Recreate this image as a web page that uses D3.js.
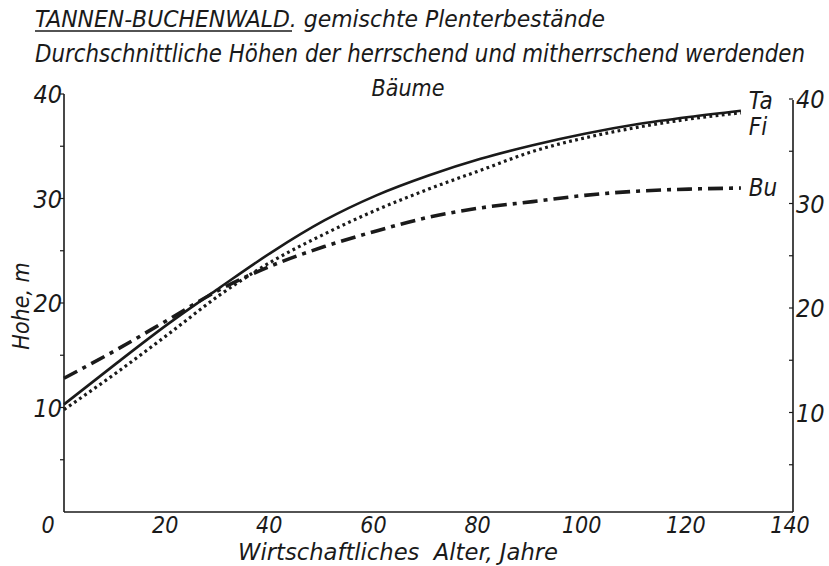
<!DOCTYPE html>
<html>
<head>
<meta charset="utf-8">
<script src="https://cdn.jsdelivr.net/npm/d3@7"></script>
<style>
  body { margin: 0; background: #fff; }
  text { font-family: "DejaVu Sans Condensed", "Liberation Sans Narrow", sans-serif; font-stretch: condensed; font-style: italic; fill: #1a1a1a; }
</style>
</head>
<body>
<svg></svg>
<script>
var ages = [0, 10, 20, 30, 40, 50, 60, 70, 80, 90, 100, 110, 120, 130];
var ta = [10.3, 14.2, 18.0, 21.5, 24.9, 27.9, 30.3, 32.2, 33.8, 35.1, 36.2, 37.1, 37.8, 38.4];
var fi = [9.8, 13.3, 17.0, 20.8, 24.0, 26.6, 28.9, 30.9, 32.7, 34.5, 35.8, 36.8, 37.6, 38.2];
var bu = [12.8, 15.5, 18.4, 21.3, 23.6, 25.4, 26.9, 28.2, 29.1, 29.7, 30.3, 30.7, 30.9, 31.0];
var xTicks = [0, 20, 40, 60, 80, 100, 120, 140];
var yTicks = [10, 20, 30, 40];
var yMinor = [5, 15, 25, 35];
var names = ["Ta", "Fi", "Bu"];

var svgWidth = 829, svgHeight = 566;
var ink = "#1a1a1a";

var svg = d3.select("svg")
  .attr("width", svgWidth)
  .attr("height", svgHeight);

var x = d3.scaleLinear().domain([0, 140]).range([64, 793]);
var y = d3.scaleLinear().domain([0, 40]).range([512, 94]);

// axes frame
svg.append("line")
  .attr("x1", x(0)).attr("x2", x(0))
  .attr("y1", y(40)).attr("y2", y(0))
  .attr("stroke", ink).attr("stroke-width", 1.6);
svg.append("line")
  .attr("x1", x(140)).attr("x2", x(140))
  .attr("y1", y(40) + 6).attr("y2", y(0))
  .attr("stroke", ink).attr("stroke-width", 1.6);
svg.append("line")
  .attr("x1", x(0)).attr("x2", x(140))
  .attr("y1", y(0)).attr("y2", y(0))
  .attr("stroke", ink).attr("stroke-width", 1.6);

// ticks
var allY = yTicks.concat(yMinor);
svg.selectAll(".ltick")
  .data(allY)
  .enter()
  .append("line")
  .attr("x1", x(0) - 4).attr("x2", x(0))
  .attr("y1", function (d) { return y(d); })
  .attr("y2", function (d) { return y(d); })
  .attr("stroke", ink).attr("stroke-width", 1.2);
svg.selectAll(".rtick")
  .data(allY)
  .enter()
  .append("line")
  .attr("x1", x(140) - 4).attr("x2", x(140))
  .attr("y1", function (d) { return y(d) + 5; })
  .attr("y2", function (d) { return y(d) + 5; })
  .attr("stroke", ink).attr("stroke-width", 1.2);

// tick labels
svg.selectAll(".ylab")
  .data(yTicks)
  .enter()
  .append("text")
  .text(function (d) { return d; })
  .attr("x", x(0) - 2)
  .attr("y", function (d) { return y(d) + 9; })
  .attr("text-anchor", "end")
  .attr("font-size", "25px");
svg.selectAll(".yrlab")
  .data(yTicks)
  .enter()
  .append("text")
  .text(function (d) { return d; })
  .attr("x", x(140) + 3)
  .attr("y", function (d) { return y(d) + 14; })
  .attr("text-anchor", "start")
  .attr("font-size", "25px");
svg.selectAll(".xlab")
  .data(xTicks)
  .enter()
  .append("text")
  .text(function (d) { return d; })
  .attr("x", function (d) { return d === 0 ? x(d) - 16 : x(d) - 3; })
  .attr("y", 533)
  .attr("text-anchor", "middle")
  .attr("font-size", "23px");

// axis titles
svg.append("text")
  .text("Wirtschaftliches  Alter, Jahre")
  .attr("x", 238).attr("y", 560)
  .attr("font-size", "23px")
  .attr("textLength", 320)
  .attr("lengthAdjust", "spacingAndGlyphs")
  .style("white-space", "pre");
svg.append("text")
  .text("Hohe, m")
  .attr("transform", "translate(29,306) rotate(-90)")
  .attr("text-anchor", "middle")
  .attr("font-size", "23px");

// title
svg.append("text")
  .attr("x", 35).attr("y", 27)
  .attr("font-size", "23px")
  .attr("textLength", 570)
  .attr("lengthAdjust", "spacingAndGlyphs")
  .text("TANNEN-BUCHENWALD. gemischte Plenterbestände");
svg.append("line")
  .attr("x1", 35).attr("x2", 292)
  .attr("y1", 31).attr("y2", 31)
  .attr("stroke", ink).attr("stroke-width", 1.4);
svg.append("text")
  .attr("x", 35).attr("y", 62)
  .attr("font-size", "24px")
  .attr("textLength", 770)
  .attr("lengthAdjust", "spacingAndGlyphs")
  .text("Durchschnittliche Höhen der herrschend und mitherrschend werdenden");
svg.append("text")
  .attr("x", 408).attr("y", 96)
  .attr("text-anchor", "middle")
  .attr("font-size", "23px")
  .text("Bäume");

// curves
var line = d3.line()
  .x(function (d) { return x(d[0]); })
  .y(function (d) { return y(d[1]); })
  .curve(d3.curveMonotoneX);

function pairs(vals) {
  return ages.map(function (a, i) { return [a, vals[i]]; });
}

svg.append("path")
  .attr("d", line(pairs(bu)))
  .attr("fill", "none")
  .attr("stroke", ink)
  .attr("stroke-width", 3.6)
  .attr("stroke-dasharray", "15,6,4,6");
svg.append("path")
  .attr("d", line(pairs(fi)))
  .attr("fill", "none")
  .attr("stroke", ink)
  .attr("stroke-width", 3.2)
  .attr("stroke-dasharray", "2.8,3.4");
svg.append("path")
  .attr("d", line(pairs(ta)))
  .attr("fill", "none")
  .attr("stroke", ink)
  .attr("stroke-width", 2.6);

// series labels, placed next to each curve's last point
var lastVals = [ta[ta.length - 1], fi[fi.length - 1], bu[bu.length - 1]];
var labelDy = [-2, 22, 8];
svg.selectAll(".slab")
  .data(names)
  .enter()
  .append("text")
  .text(function (d) { return d; })
  .attr("x", x(131.5))
  .attr("y", function (d, i) { return y(lastVals[i]) + labelDy[i]; })
  .attr("font-size", "24px");
</script>
</body>
</html>
